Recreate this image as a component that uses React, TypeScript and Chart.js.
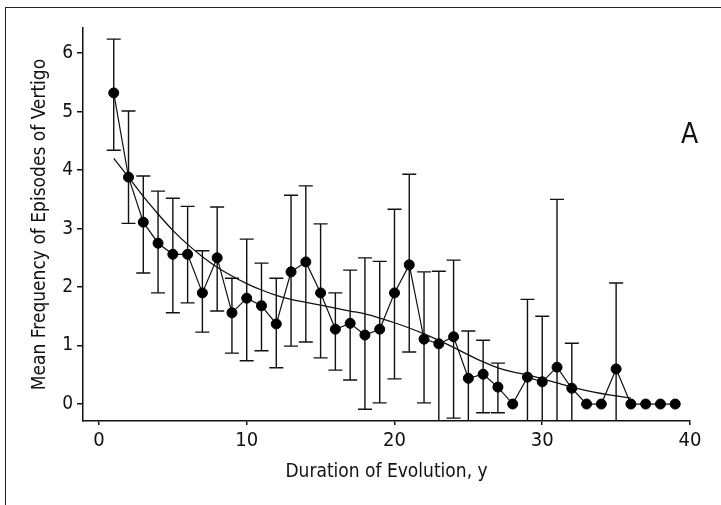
import React, { useEffect, useRef } from "react";
import { Chart, registerables } from "chart.js";

Chart.register(...registerables);

// ---- Data ----
const years = [
  1, 2, 3, 4, 5, 6, 7, 8, 9, 10, 11, 12, 13, 14, 15, 16, 17, 18, 19, 20,
  21, 22, 23, 24, 25, 26, 27, 28, 29, 30, 31, 32, 33, 34, 35, 36, 37, 38, 39,
];
const meanFreq = [
  5.32, 3.88, 3.11, 2.75, 2.56, 2.56, 1.9, 2.5, 1.56, 1.81, 1.68, 1.37, 2.26,
  2.43, 1.9, 1.28, 1.38, 1.18, 1.28, 1.9, 2.38, 1.11, 1.03, 1.15, 0.44, 0.51,
  0.29, 0, 0.46, 0.38, 0.63, 0.27, 0, 0, 0.6, 0, 0, 0, 0,
];
const upperBound = [
  6.24, 5.01, 3.9, 3.64, 3.52, 3.38, 2.62, 3.37, 2.15, 2.82, 2.41, 2.15, 3.57,
  3.73, 3.08, 1.9, 2.29, 2.5, 2.44, 3.33, 3.93, 2.26, 2.27, 2.46, 1.25, 1.09,
  0.7, null, 1.79, 1.5, 3.5, 1.04, null, null, 2.07, null, null, null, null,
];
const lowerBound = [
  4.34, 3.09, 2.24, 1.9, 1.56, 1.73, 1.23, 1.59, 0.87, 0.74, 0.91, 0.62, 0.99,
  1.06, 0.79, 0.58, 0.41, -0.09, 0.02, 0.43, 0.89, 0.02, -0.6, -0.24, -0.6,
  -0.15, -0.15, null, -0.87, -0.74, -2.24, -0.5, null, null, -0.87, null, null,
  null, null,
];
const fitYears = [
  1, 2, 3, 4, 5, 6, 7, 8, 9, 10, 11, 12, 13, 14, 15, 16, 17, 18, 19, 20, 21,
  22, 23, 24, 25, 26, 27, 28, 29, 30, 31, 32, 33, 34, 35, 36,
];
const fitValues = [
  4.2, 3.88, 3.55, 3.25, 2.97, 2.73, 2.52, 2.34, 2.19, 2.06, 1.95, 1.86, 1.79,
  1.74, 1.69, 1.64, 1.59, 1.54, 1.47, 1.39, 1.3, 1.2, 1.09, 0.97, 0.84, 0.72,
  0.62, 0.55, 0.5, 0.43, 0.36, 0.29, 0.23, 0.18, 0.14, 0.1,
];
const xTickValues = [0, 10, 20, 30, 40];
const yTickValues = [0, 1, 2, 3, 4, 5, 6];
const xAxisTitle = "Duration of Evolution, y";
const yAxisTitle = "Mean Frequency of Episodes of Vertigo";
const panelLabel = "A";

const FONT =
  "'Liberation Sans Narrow', 'DejaVu Sans Condensed', 'Arial Narrow', sans-serif";
const INK = "#111";

const errorBarPlugin = {
  id: "errorBars",
  beforeDatasetsDraw(chart: any) {
    const { ctx, chartArea, scales } = chart;
    const xs = scales.x;
    const ys = scales.y;
    ctx.save();
    ctx.beginPath();
    ctx.rect(
      chartArea.left,
      chartArea.top,
      chartArea.right - chartArea.left,
      chartArea.bottom - chartArea.top
    );
    ctx.clip();
    ctx.strokeStyle = INK;
    ctx.lineWidth = 1.4;
    const cap = 7;
    years.forEach((yr, i) => {
      const hi = upperBound[i];
      const lo = lowerBound[i];
      if (hi == null || lo == null) return;
      const px = xs.getPixelForValue(yr);
      const pHi = ys.getPixelForValue(hi);
      const pLo = ys.getPixelForValue(lo);
      ctx.beginPath();
      ctx.moveTo(px, pHi);
      ctx.lineTo(px, pLo);
      ctx.moveTo(px - cap, pHi);
      ctx.lineTo(px + cap, pHi);
      ctx.moveTo(px - cap, pLo);
      ctx.lineTo(px + cap, pLo);
      ctx.stroke();
    });
    ctx.restore();
  },
};

export default function App() {
  const canvasRef = useRef<HTMLCanvasElement | null>(null);

  useEffect(() => {
    if (!canvasRef.current) return;
    const chart = new Chart(canvasRef.current, {
      type: "scatter",
      data: {
        datasets: [
          {
            label: "fit",
            data: fitYears.map((x, i) => ({ x, y: fitValues[i] })),
            showLine: true,
            borderColor: INK,
            borderWidth: 1.3,
            pointRadius: 0,
            cubicInterpolationMode: "monotone",
            fill: false,
          } as any,
          {
            label: "mean",
            data: years.map((x, i) => ({ x, y: meanFreq[i] })),
            showLine: true,
            borderColor: INK,
            borderWidth: 1.2,
            pointRadius: 5,
            pointBorderWidth: 1,
            pointBackgroundColor: "#000",
            pointBorderColor: "#000",
            fill: false,
          } as any,
        ],
      },
      options: {
        responsive: false,
        animation: false,
        devicePixelRatio: 1,
        layout: { padding: { left: 0, top: 28, right: 31, bottom: 0 } },
        plugins: {
          legend: { display: false },
          tooltip: { enabled: false },
        },
        scales: {
          x: {
            type: "linear",
            min: -1.08,
            max: 40,
            afterBuildTicks: (s: any) => {
              s.ticks = xTickValues.map((v) => ({ value: v }));
            },
            afterFit: (s: any) => {
              s.height = 84;
            },
            ticks: {
              font: { family: FONT, size: 20 },
              color: INK,
              padding: 4,
              maxRotation: 0,
              callback: (v: any) => String(v),
            },
            grid: {
              display: true,
              drawOnChartArea: false,
              drawTicks: true,
              tickLength: 4,
              color: INK,
              lineWidth: 1.5,
            },
            border: { display: true, color: INK, width: 1.5 },
            title: {
              display: true,
              text: xAxisTitle,
              color: INK,
              font: { family: FONT, size: 19 },
              padding: { top: 0, bottom: 22 },
            },
          },
          y: {
            type: "linear",
            min: -0.29,
            max: 6.43,
            afterBuildTicks: (s: any) => {
              s.ticks = yTickValues.map((v) => ({ value: v }));
            },
            afterFit: (s: any) => {
              s.width = 83;
            },
            ticks: {
              font: { family: FONT, size: 19 },
              color: INK,
              padding: 4,
              callback: (v: any) => String(v),
            },
            grid: {
              display: true,
              drawOnChartArea: false,
              drawTicks: true,
              tickLength: 6,
              color: INK,
              lineWidth: 1.5,
            },
            border: { display: true, color: INK, width: 1.5 },
            title: {
              display: true,
              text: yAxisTitle,
              color: INK,
              font: { family: FONT, size: 19 },
              padding: { top: 29, bottom: 0 },
            },
          },
        },
      },
      plugins: [errorBarPlugin],
    });
    return () => chart.destroy();
  }, []);

  return (
    <div
      style={{
        position: "absolute",
        left: 0,
        top: 0,
        width: 721,
        height: 505,
        background: "#fff",
        overflow: "hidden",
      }}
    >
      <div
        style={{
          position: "absolute",
          left: 5,
          top: 7,
          width: 716,
          height: 498,
          borderLeft: "1.5px solid #222",
          borderTop: "1.5px solid #222",
          boxSizing: "border-box",
        }}
      />
      <canvas
        ref={canvasRef}
        width={721}
        height={505}
        style={{ position: "absolute", left: 0, top: 0, width: 721, height: 505 }}
      />
      <div
        style={{
          position: "absolute",
          left: 681,
          top: 120,
          fontFamily: FONT,
          fontSize: 28,
          lineHeight: "28px",
          color: INK,
        }}
      >
        {panelLabel}
      </div>
    </div>
  );
}
